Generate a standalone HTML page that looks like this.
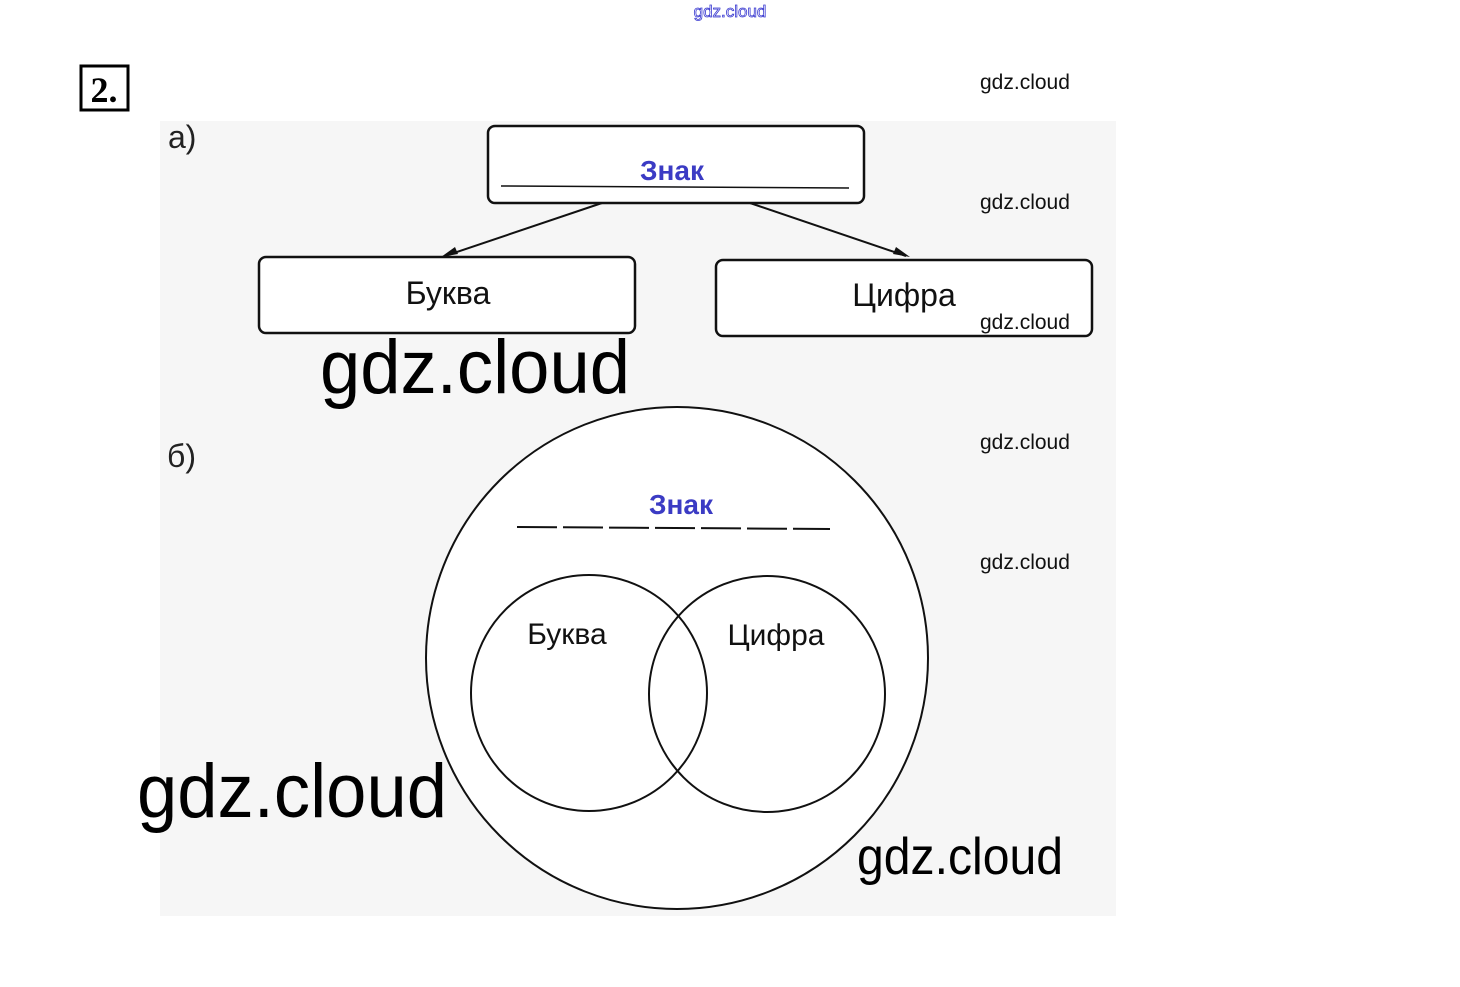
<!DOCTYPE html>
<html><head><meta charset="utf-8"><style>
html,body{margin:0;padding:0;background:#fff;}
body{width:1460px;height:987px;position:relative;overflow:hidden;font-family:"Liberation Sans",sans-serif;}
svg{position:absolute;left:0;top:0;}
</style></head><body>
<svg width="1460" height="987" viewBox="0 0 1460 987">
<rect x="160" y="121" width="956" height="795" fill="#f6f6f6"/>
<text x="730" y="17" font-size="17" fill="#fff" stroke="#3a3ad0" stroke-width="0.8" text-anchor="middle" font-family="Liberation Sans Narrow, Liberation Sans, sans-serif">gdz.cloud</text>
<rect x="81" y="66" width="47" height="44" fill="#fff" stroke="#000" stroke-width="3"/>
<text x="104" y="102" font-size="36" font-family="Liberation Serif, serif" font-weight="bold" text-anchor="middle">2.</text>
<text x="168" y="148" font-size="32" fill="#222">а)</text>
<rect x="488" y="126" width="376" height="77" rx="7" fill="#fff" stroke="#111" stroke-width="2.5"/>
<line x1="501" y1="186" x2="849" y2="188" stroke="#111" stroke-width="1.5"/>
<text x="672" y="180" font-size="28" fill="#3b3bc4" font-weight="bold" text-anchor="middle">Знак</text>
<line x1="602" y1="203" x2="445" y2="256" stroke="#111" stroke-width="2"/>
<polygon points="441,257 455,247 458,254" fill="#111"/>
<line x1="750" y1="203" x2="906" y2="256" stroke="#111" stroke-width="2"/>
<polygon points="910,257 893,254 896,247" fill="#111"/>
<rect x="259" y="257" width="376" height="76" rx="7" fill="#fff" stroke="#111" stroke-width="2.5"/>
<text x="448" y="304" font-size="32" fill="#111" text-anchor="middle">Буква</text>
<rect x="716" y="260" width="376" height="76" rx="7" fill="#fff" stroke="#111" stroke-width="2.5"/>
<text x="904" y="306" font-size="32" fill="#111" text-anchor="middle">Цифра</text>
<text x="167" y="467" font-size="32" fill="#222">б)</text>
<ellipse cx="677" cy="658" rx="251" ry="251" fill="#fff" stroke="#111" stroke-width="2"/>
<text x="681" y="514" font-size="28" fill="#3b3bc4" font-weight="bold" text-anchor="middle">Знак</text>
<line x1="517" y1="527" x2="830" y2="529" stroke="#111" stroke-width="2" stroke-dasharray="40,6"/>
<circle cx="589" cy="693" r="118" fill="none" stroke="#111" stroke-width="2"/>
<circle cx="767" cy="694" r="118" fill="none" stroke="#111" stroke-width="2"/>
<text x="567" y="644" font-size="30" fill="#111" text-anchor="middle">Буква</text>
<text x="776" y="645" font-size="30" fill="#111" text-anchor="middle">Цифра</text>
<g font-size="21" fill="#111">
<text x="980" y="89">gdz.cloud</text>
<text x="980" y="209">gdz.cloud</text>
<text x="980" y="329">gdz.cloud</text>
<text x="980" y="449">gdz.cloud</text>
<text x="980" y="569">gdz.cloud</text>
</g>
<text x="320" y="393" font-size="76" fill="#000" textLength="310" lengthAdjust="spacingAndGlyphs">gdz.cloud</text>
<text x="137" y="817" font-size="76" fill="#000" textLength="310" lengthAdjust="spacingAndGlyphs">gdz.cloud</text>
<text x="857" y="874" font-size="52" fill="#000" textLength="206" lengthAdjust="spacingAndGlyphs">gdz.cloud</text>
</svg>
</body></html>
